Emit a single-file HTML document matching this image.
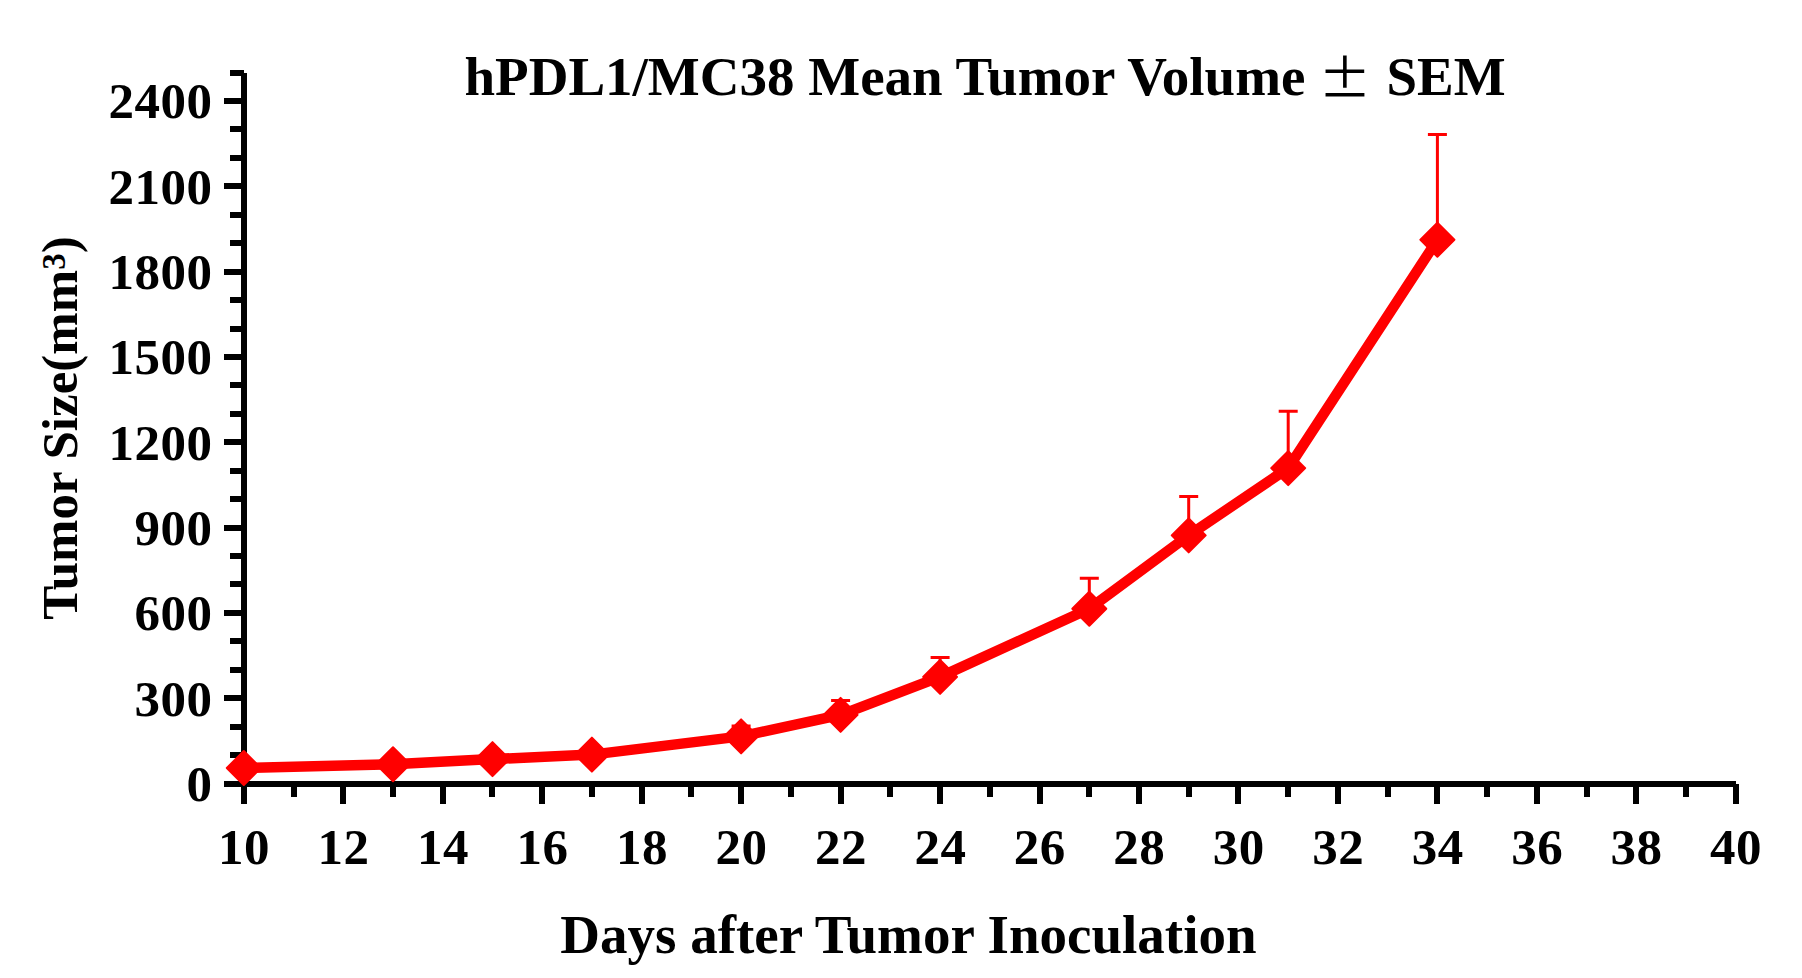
<!DOCTYPE html>
<html lang="en"><head><meta charset="utf-8"><title>hPDL1/MC38 Mean Tumor Volume</title>
<style>
html,body{margin:0;padding:0;background:#fff;}
body{width:1802px;height:978px;overflow:hidden;}
svg{display:block;}
text{font-family:"Liberation Serif","Noto Serif CJK SC",serif;font-weight:bold;fill:#000;}
.tk{font-size:51px;letter-spacing:0.5px;}
.ti{font-size:55px;}
.yl{font-size:51px;}
.pm{font-family:"Noto Sans CJK SC","Noto Serif CJK SC",sans-serif;font-weight:400;font-size:55px;}
</style></head><body>
<svg width="1802" height="978" viewBox="0 0 1802 978">
<rect width="1802" height="978" fill="#fff"/>

<g fill="#000" shape-rendering="crispEdges">
<rect x="241" y="73" width="6" height="714"/>
<rect x="224" y="781" width="1512" height="6"/>
<rect x="224" y="781" width="20" height="6"/>
<rect x="230" y="752" width="14" height="6"/>
<rect x="230" y="724" width="14" height="6"/>
<rect x="224" y="695" width="20" height="6"/>
<rect x="230" y="667" width="14" height="6"/>
<rect x="230" y="638" width="14" height="6"/>
<rect x="224" y="610" width="20" height="6"/>
<rect x="230" y="581" width="14" height="6"/>
<rect x="230" y="553" width="14" height="6"/>
<rect x="224" y="525" width="20" height="6"/>
<rect x="230" y="496" width="14" height="6"/>
<rect x="230" y="468" width="14" height="6"/>
<rect x="224" y="439" width="20" height="6"/>
<rect x="230" y="411" width="14" height="6"/>
<rect x="230" y="382" width="14" height="6"/>
<rect x="224" y="354" width="20" height="6"/>
<rect x="230" y="326" width="14" height="6"/>
<rect x="230" y="297" width="14" height="6"/>
<rect x="224" y="269" width="20" height="6"/>
<rect x="230" y="240" width="14" height="6"/>
<rect x="230" y="212" width="14" height="6"/>
<rect x="224" y="183" width="20" height="6"/>
<rect x="230" y="155" width="14" height="6"/>
<rect x="230" y="126" width="14" height="6"/>
<rect x="224" y="98" width="20" height="6"/>
<rect x="230" y="70" width="14" height="6"/>
<rect x="241" y="784" width="6" height="20"/>
<rect x="291" y="784" width="6" height="13"/>
<rect x="340" y="784" width="6" height="20"/>
<rect x="390" y="784" width="6" height="13"/>
<rect x="440" y="784" width="6" height="20"/>
<rect x="489" y="784" width="6" height="13"/>
<rect x="539" y="784" width="6" height="20"/>
<rect x="589" y="784" width="6" height="13"/>
<rect x="639" y="784" width="6" height="20"/>
<rect x="688" y="784" width="6" height="13"/>
<rect x="738" y="784" width="6" height="20"/>
<rect x="788" y="784" width="6" height="13"/>
<rect x="838" y="784" width="6" height="20"/>
<rect x="887" y="784" width="6" height="13"/>
<rect x="937" y="784" width="6" height="20"/>
<rect x="987" y="784" width="6" height="13"/>
<rect x="1037" y="784" width="6" height="20"/>
<rect x="1086" y="784" width="6" height="13"/>
<rect x="1136" y="784" width="6" height="20"/>
<rect x="1186" y="784" width="6" height="13"/>
<rect x="1235" y="784" width="6" height="20"/>
<rect x="1285" y="784" width="6" height="13"/>
<rect x="1335" y="784" width="6" height="20"/>
<rect x="1385" y="784" width="6" height="13"/>
<rect x="1434" y="784" width="6" height="20"/>
<rect x="1484" y="784" width="6" height="13"/>
<rect x="1534" y="784" width="6" height="20"/>
<rect x="1584" y="784" width="6" height="13"/>
<rect x="1633" y="784" width="6" height="20"/>
<rect x="1683" y="784" width="6" height="13"/>
<rect x="1733" y="784" width="6" height="20"/>
</g>
<g text-anchor="end" class="tk">
<text x="212.4" y="800.9">0</text>
<text x="212.4" y="715.6">300</text>
<text x="212.4" y="630.3">600</text>
<text x="212.4" y="545.0">900</text>
<text x="212.4" y="459.6">1200</text>
<text x="212.4" y="374.3">1500</text>
<text x="212.4" y="289.0">1800</text>
<text x="212.4" y="203.7">2100</text>
<text x="212.4" y="118.4">2400</text>
</g><g text-anchor="middle" class="tk">
<text x="244.1" y="864.2">10</text>
<text x="343.6" y="864.2">12</text>
<text x="443.0" y="864.2">14</text>
<text x="542.5" y="864.2">16</text>
<text x="642.0" y="864.2">18</text>
<text x="741.4" y="864.2">20</text>
<text x="840.9" y="864.2">22</text>
<text x="940.4" y="864.2">24</text>
<text x="1039.8" y="864.2">26</text>
<text x="1139.3" y="864.2">28</text>
<text x="1238.8" y="864.2">30</text>
<text x="1338.2" y="864.2">32</text>
<text x="1437.7" y="864.2">34</text>
<text x="1537.2" y="864.2">36</text>
<text x="1636.6" y="864.2">38</text>
<text x="1736.1" y="864.2">40</text>
</g>
<text class="ti" x="464.5" y="94.9">hPDL1/MC38 Mean Tumor Volume</text>
<text class="pm" transform="translate(1318.3,96.6) scale(0.968,0.92)">±</text>
<text class="ti" x="1386.5" y="94.9">SEM</text>
<text class="ti" x="908.4" y="953.3" text-anchor="middle">Days after Tumor Inoculation</text>
<text class="yl" transform="translate(77.4,428) rotate(-90)" text-anchor="middle">Tumor Size(mm<tspan style="font-size:33px;font-weight:bold" dy="-12">3</tspan><tspan dy="12">)</tspan></text>
<g stroke="#f00" stroke-width="3" fill="none">
<path d="M741.1 736.4V726.0M731.6 726.0H750.6"/>
<path d="M840.6 714.9V700.4M831.1 700.4H850.1"/>
<path d="M940.1 676.9V657.4M930.6 657.4H949.6"/>
<path d="M1089.3 608.8V578.3M1079.8 578.3H1098.8"/>
<path d="M1188.7 535.4V496.5M1179.2 496.5H1198.2"/>
<path d="M1288.2 468.1V411.3M1278.7 411.3H1297.7"/>
<path d="M1437.4 239.8V134.5M1427.9 134.5H1446.9"/>
</g>
<polyline fill="none" stroke="#f00" stroke-width="10.5" stroke-linejoin="round" points="243.8,768.0 393.0,764.2 492.5,759.1 591.9,754.6 741.1,736.4 840.6,714.9 940.1,676.9 1089.3,608.8 1188.7,535.4 1288.2,468.1 1437.4,239.8"/>
<g fill="#f00" stroke="#f00" stroke-width="2" stroke-linejoin="round">
<path d="M243.8 751.0L260.8 768.0L243.8 785.0L226.8 768.0Z"/>
<path d="M393.0 747.2L410.0 764.2L393.0 781.2L376.0 764.2Z"/>
<path d="M492.5 742.1L509.5 759.1L492.5 776.1L475.5 759.1Z"/>
<path d="M591.9 737.6L608.9 754.6L591.9 771.6L574.9 754.6Z"/>
<path d="M741.1 719.4L758.1 736.4L741.1 753.4L724.1 736.4Z"/>
<path d="M840.6 697.9L857.6 714.9L840.6 731.9L823.6 714.9Z"/>
<path d="M940.1 659.9L957.1 676.9L940.1 693.9L923.1 676.9Z"/>
<path d="M1089.3 591.8L1106.3 608.8L1089.3 625.8L1072.3 608.8Z"/>
<path d="M1188.7 518.4L1205.7 535.4L1188.7 552.4L1171.7 535.4Z"/>
<path d="M1288.2 451.1L1305.2 468.1L1288.2 485.1L1271.2 468.1Z"/>
<path d="M1437.4 222.8L1454.4 239.8L1437.4 256.8L1420.4 239.8Z"/>
</g>
</svg></body></html>
